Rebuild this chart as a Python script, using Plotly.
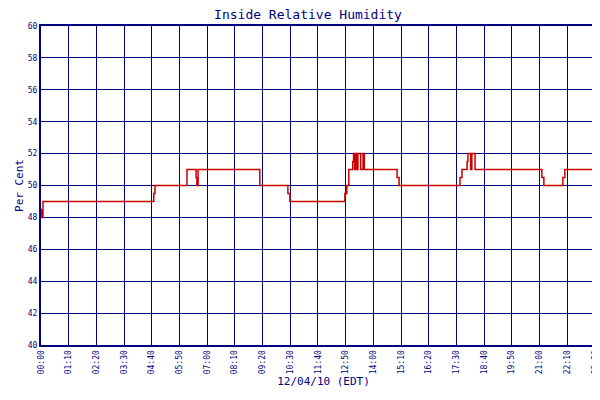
import plotly.graph_objects as go

# minutes after midnight, relative humidity (%)
minutes = [0, 2, 5, 285, 288, 369, 392, 394, 397, 553, 624, 629, 768, 771, 773, 778,
           788, 790, 793, 796, 799, 801, 805, 808, 814, 817, 826, 900, 903, 905, 1059,
           1062, 1064, 1077, 1079, 1086, 1089, 1094, 1097, 1266, 1268, 1271, 1319, 1321,
           1324, 1428]
humidity = [48.5, 48, 49, 49.5, 50, 51, 50.5, 50, 51, 50, 49.5, 49, 49.5, 49.5, 50, 51,
            51.5, 52, 51, 52, 51, 52, 52, 51, 52, 51, 51, 50.5, 50.5, 50, 50.5,
            50.5, 51, 51.5, 52, 51, 52, 52, 51, 50.5, 50.5, 50, 50.5, 50.5,
            51, 51]

tick_min = list(range(0, 1401, 70)) + [1428]
tick_text = ["%02d:%02d" % (m // 60, m % 60) for m in tick_min]
y_ticks = list(range(40, 61, 2))

navy = "#000080"
font = dict(family="DejaVu Sans Mono", color=navy, size=9)

fig = go.Figure()
fig.add_trace(go.Scatter(
    x=minutes, y=humidity, mode="lines", line_shape="hv",
    line=dict(color="#cc0000", width=1.5), name="Relative Humidity",
))

fig.update_layout(
    width=600, height=400,
    margin=dict(l=33, r=2, t=18, b=63, autoexpand=False),
    paper_bgcolor="white", plot_bgcolor="white",
    font=font,
    title=dict(text="Inside Relative Humidity", x=0.5, y=0.995, xanchor="center",
               yanchor="top", font=dict(size=13, color=navy, family="DejaVu Sans Mono")),
    showlegend=True,
    legend=dict(orientation="h", x=0.5, xanchor="center", y=-0.185, yanchor="top",
                font=dict(size=8, color=navy)),
)
fig.update_xaxes(
    range=[0, 1428], tickvals=tick_min, ticktext=tick_text, tickangle=-90,
    showgrid=True, gridcolor=navy, gridwidth=1, showline=True, linecolor=navy,
    linewidth=2, mirror=True, zeroline=False, ticks="", tickfont=dict(size=8),
    automargin=False,
    title=dict(text="12/04/10 (EDT)", font=dict(size=11, color=navy), standoff=4),
)
fig.update_yaxes(
    range=[40, 60], tickvals=y_ticks, showgrid=True, gridcolor=navy, gridwidth=1,
    showline=True, linecolor=navy, linewidth=2, mirror=True, zeroline=False,
    ticks="", tickfont=dict(size=8), automargin=False,
    title=dict(text="Per Cent", font=dict(size=11, color=navy), standoff=2),
)

fig.write_html("out.html")
